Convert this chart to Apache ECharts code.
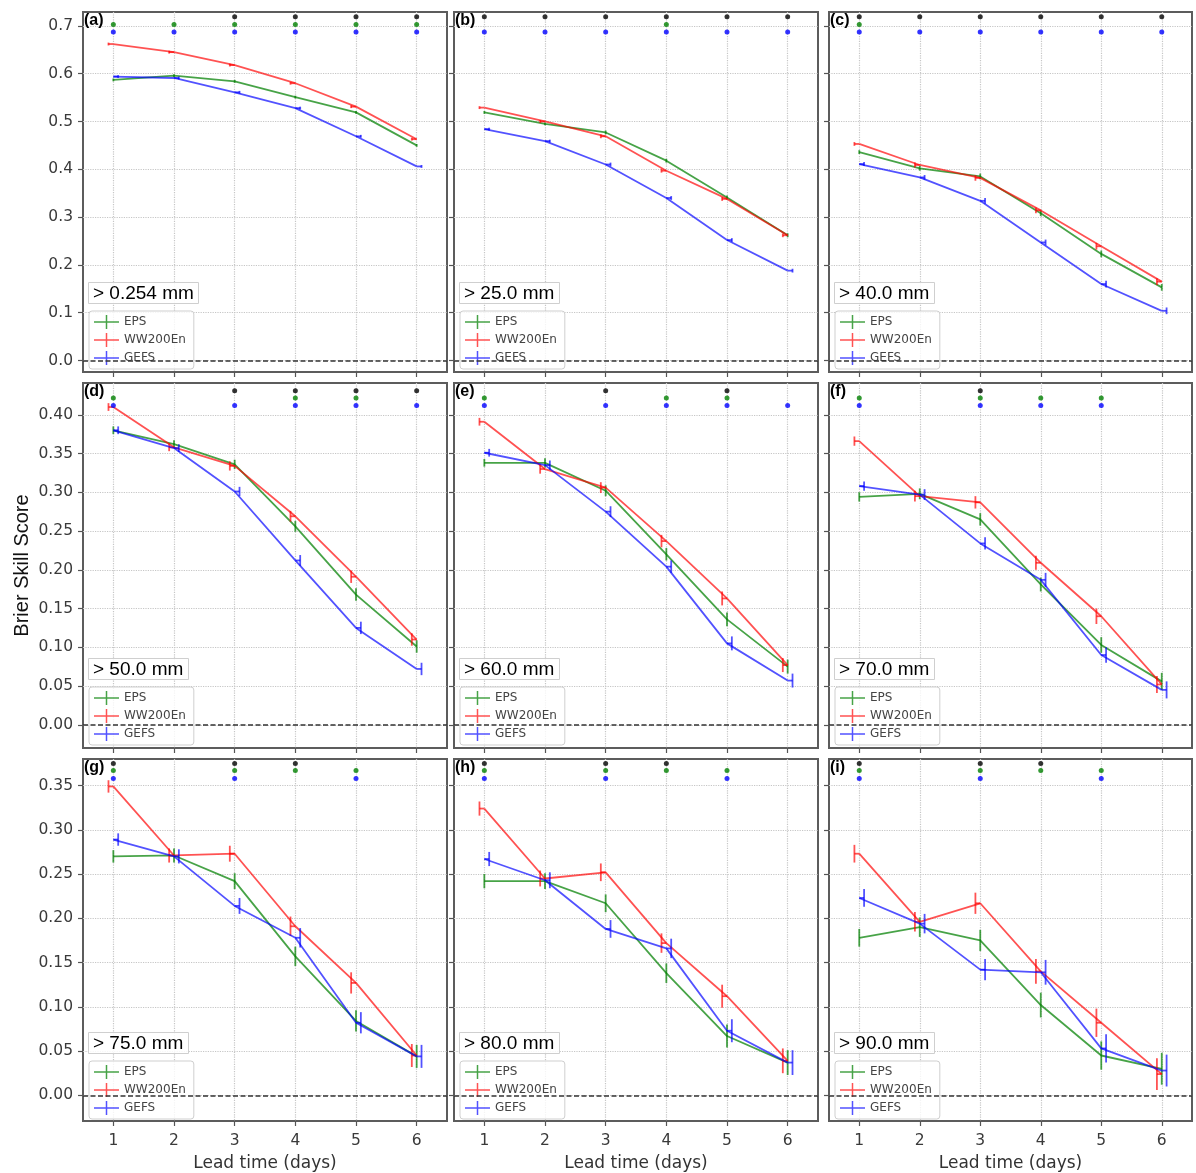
<!DOCTYPE html>
<html><head><meta charset="utf-8">
<script src="https://cdn.jsdelivr.net/npm/echarts@6/dist/echarts.min.js"></script>
<style>html,body{margin:0;padding:0;background:#fff}#chart{width:1196px;height:1173px}</style>
</head><body><div id="chart"></div>
<script>
// ---------------- data ----------------
const leadTimes = [1, 2, 3, 4, 5, 6];
const models = ['EPS', 'WW200En', 'GEFS'];
const panelLetters = ['(a)', '(b)', '(c)', '(d)', '(e)', '(f)', '(g)', '(h)', '(i)'];
const thresholds = ['> 0.254 mm', '> 25.0 mm', '> 40.0 mm', '> 50.0 mm', '> 60.0 mm', '> 70.0 mm', '> 75.0 mm', '> 80.0 mm', '> 90.0 mm'];
const yTicksRow1 = [0.0, 0.1, 0.2, 0.3, 0.4, 0.5, 0.6, 0.7];
const yTicksRow2 = [0.00, 0.05, 0.10, 0.15, 0.20, 0.25, 0.30, 0.35, 0.40];
const yTicksRow3 = [0.00, 0.05, 0.10, 0.15, 0.20, 0.25, 0.30, 0.35];
const xAxisTitle = 'Lead time (days)';
const yAxisTitle = 'Brier Skill Score';

// (a) > 0.254 mm
const eps_a  = [0.587, 0.596, 0.584, 0.551, 0.519, 0.450];
const ww_a   = [0.662, 0.645, 0.618, 0.580, 0.531, 0.463];
const gefs_a = [0.594, 0.591, 0.561, 0.528, 0.469, 0.406];
const err_a  = [0.003, 0.003, 0.003, 0.003, 0.003, 0.003];
const sigBlack_a = [3, 4, 5, 6], sigGreen_a = [1, 2, 3, 4, 5, 6], sigBlue_a = [1, 2, 3, 4, 5, 6];
// (b) > 25.0 mm
const eps_b  = [0.519, 0.495, 0.477, 0.418, 0.341, 0.262];
const ww_b   = [0.529, 0.500, 0.469, 0.397, 0.338, 0.262];
const gefs_b = [0.484, 0.459, 0.410, 0.340, 0.252, 0.188];
const err_b  = [0.003, 0.003, 0.004, 0.004, 0.004, 0.004];
const sigBlack_b = [1, 2, 3, 4, 5, 6], sigGreen_b = [4], sigBlue_b = [1, 2, 3, 4, 5, 6];
// (c) > 40.0 mm
const eps_c  = [0.436, 0.402, 0.385, 0.308, 0.223, 0.153];
const ww_c   = [0.453, 0.409, 0.382, 0.314, 0.239, 0.165];
const gefs_c = [0.411, 0.383, 0.334, 0.247, 0.160, 0.104];
const err_c  = [0.004, 0.005, 0.006, 0.006, 0.007, 0.007];
const sigBlack_c = [1, 2, 3, 4, 5, 6], sigGreen_c = [1], sigBlue_c = [1, 2, 3, 4, 5, 6];
// (d) > 50.0 mm
const eps_d  = [0.380, 0.362, 0.336, 0.256, 0.168, 0.101];
const ww_d   = [0.410, 0.358, 0.334, 0.269, 0.191, 0.110];
const gefs_d = [0.380, 0.357, 0.301, 0.212, 0.125, 0.072];
const err_d  = [0.005, 0.005, 0.006, 0.007, 0.008, 0.008];
const sigBlack_d = [3, 4, 5, 6], sigGreen_d = [1, 4, 5], sigBlue_d = [1, 3, 4, 5, 6];
// (e) > 60.0 mm
const eps_e  = [0.338, 0.338, 0.302, 0.220, 0.136, 0.075];
const ww_e   = [0.391, 0.330, 0.306, 0.237, 0.163, 0.077];
const gefs_e = [0.351, 0.335, 0.275, 0.204, 0.105, 0.057];
const err_e  = [0.005, 0.006, 0.007, 0.008, 0.009, 0.009];
const sigBlack_e = [3, 5], sigGreen_e = [1, 4, 5], sigBlue_e = [1, 3, 4, 5, 6];
// (f) > 70.0 mm
const eps_f  = [0.294, 0.298, 0.265, 0.181, 0.103, 0.056];
const ww_f   = [0.366, 0.295, 0.287, 0.209, 0.140, 0.052];
const gefs_f = [0.308, 0.297, 0.234, 0.187, 0.090, 0.045];
const err_f  = [0.006, 0.007, 0.008, 0.009, 0.010, 0.011];
const sigBlack_f = [3], sigGreen_f = [1, 3, 4, 5], sigBlue_f = [1, 3, 4, 5];
// (g) > 75.0 mm
const eps_g  = [0.270, 0.271, 0.242, 0.157, 0.084, 0.044];
const ww_g   = [0.349, 0.271, 0.273, 0.191, 0.127, 0.045];
const gefs_g = [0.289, 0.270, 0.214, 0.178, 0.082, 0.044];
const err_g  = [0.007, 0.008, 0.009, 0.011, 0.012, 0.013];
const sigBlack_g = [1, 3, 4], sigGreen_g = [1, 3, 4, 5], sigBlue_g = [1, 3, 5];
// (h) > 80.0 mm
const eps_h  = [0.242, 0.242, 0.217, 0.138, 0.067, 0.037];
const ww_h   = [0.324, 0.245, 0.252, 0.172, 0.112, 0.039];
const gefs_h = [0.267, 0.243, 0.188, 0.166, 0.073, 0.037];
const err_h  = [0.008, 0.009, 0.010, 0.011, 0.013, 0.014];
const sigBlack_h = [1, 3, 4], sigGreen_h = [1, 3, 4, 5], sigBlue_h = [1, 3, 5];
// (i) > 90.0 mm
const eps_i  = [0.178, 0.190, 0.175, 0.102, 0.045, 0.030];
const ww_i   = [0.273, 0.196, 0.217, 0.140, 0.082, 0.024];
const gefs_i = [0.223, 0.194, 0.142, 0.139, 0.053, 0.028];
const err_i  = [0.010, 0.011, 0.012, 0.014, 0.016, 0.018];
const sigBlack_i = [1, 3, 4], sigGreen_i = [1, 3, 4, 5], sigBlue_i = [1, 3, 5];

// ---------------- layout / style ----------------
const panels = [
  {EPS: eps_a, WW200En: ww_a, GEFS: gefs_a, err: err_a, black: sigBlack_a, green: sigGreen_a, blue: sigBlue_a},
  {EPS: eps_b, WW200En: ww_b, GEFS: gefs_b, err: err_b, black: sigBlack_b, green: sigGreen_b, blue: sigBlue_b},
  {EPS: eps_c, WW200En: ww_c, GEFS: gefs_c, err: err_c, black: sigBlack_c, green: sigGreen_c, blue: sigBlue_c},
  {EPS: eps_d, WW200En: ww_d, GEFS: gefs_d, err: err_d, black: sigBlack_d, green: sigGreen_d, blue: sigBlue_d},
  {EPS: eps_e, WW200En: ww_e, GEFS: gefs_e, err: err_e, black: sigBlack_e, green: sigGreen_e, blue: sigBlue_e},
  {EPS: eps_f, WW200En: ww_f, GEFS: gefs_f, err: err_f, black: sigBlack_f, green: sigGreen_f, blue: sigBlue_f},
  {EPS: eps_g, WW200En: ww_g, GEFS: gefs_g, err: err_g, black: sigBlack_g, green: sigGreen_g, blue: sigBlue_g},
  {EPS: eps_h, WW200En: ww_h, GEFS: gefs_h, err: err_h, black: sigBlack_h, green: sigGreen_h, blue: sigBlue_h},
  {EPS: eps_i, WW200En: ww_i, GEFS: gefs_i, err: err_i, black: sigBlack_i, green: sigGreen_i, blue: sigBlue_i}
];
const COLS = [{left: 83, width: 364}, {left: 454, width: 364}, {left: 829, width: 363}];
const ROWS = [
  {top: 12, height: 360, min: -0.024, max: 0.729, split: 7, ticks: yTicksRow1, dec: 1, dots: [0.719, 0.703, 0.687]},
  {top: 383, height: 365, min: -0.030, max: 0.441, split: 9, ticks: yTicksRow2, dec: 2, dots: [0.431, 0.4215, 0.412]},
  {top: 759, height: 363, min: -0.029, max: 0.380, split: 8, ticks: yTicksRow3, dec: 2, dots: [0.375, 0.367, 0.358]}
];
const COLOR = {EPS: 'rgba(0,128,0,0.72)', WW200En: 'rgba(255,0,0,0.68)', GEFS: 'rgba(0,0,255,0.68)'};
const OFFSET = {EPS: 0, WW200En: -0.08, GEFS: 0.08};
const DOT_COLOR = ['#000000', '#008000', '#0000ff'];
const LW = 1.8;
const TICK_FONT = {fontFamily: 'DejaVu Sans', fontSize: 15.5, color: '#3a3a3a'};

const option = {
  animation: false, backgroundColor: '#ffffff',
  grid: [], xAxis: [], yAxis: [], series: [], title: [], legend: []
};

panels.forEach((p, k) => {
  const r = Math.floor(k / 3), c = k % 3;
  const R = ROWS[r], C = COLS[c];
  option.grid.push({left: C.left, top: R.top, width: C.width, height: R.height,
    show: true, borderColor: '#5c5c5c', borderWidth: 2, backgroundColor: '#fff'});
  option.xAxis.push({
    type: 'value', gridIndex: k, min: 0.5, max: 6.5, splitNumber: 6, position: 'bottom',
    axisLine: {show: false, onZero: false},
    axisTick: {show: true, length: 5, customValues: leadTimes, lineStyle: {color: '#555', width: 1.2}},
    axisLabel: Object.assign({show: r === 2, customValues: leadTimes, margin: 12,
      formatter: v => String(v)}, TICK_FONT),
    splitLine: {show: true, lineStyle: {type: 'dotted', color: '#c6c6c6', width: 1.2}},
    name: r === 2 ? xAxisTitle : '', nameLocation: 'middle', nameGap: 34,
    nameTextStyle: {fontFamily: 'DejaVu Sans', fontSize: 17, color: '#333'}
  });
  option.yAxis.push({
    type: 'value', gridIndex: k, min: R.min, max: R.max, splitNumber: R.split, position: 'left',
    axisLine: {show: false, onZero: false},
    axisTick: {show: true, length: 5, customValues: R.ticks, lineStyle: {color: '#555', width: 1.2}},
    axisLabel: Object.assign({show: c === 0, customValues: R.ticks, margin: 10,
      formatter: v => v.toFixed(R.dec)}, TICK_FONT),
    splitLine: {show: true, lineStyle: {type: 'dotted', color: '#c6c6c6', width: 1.2}},
    name: (k === 3) ? yAxisTitle : '', nameLocation: 'middle', nameGap: 51,
    nameTextStyle: {fontFamily: 'Liberation Sans', fontSize: 20, color: '#111'}
  });

  models.forEach((m, mi) => {
    const vals = p[m];
    const line = {
      name: m, type: 'line', xAxisIndex: k, yAxisIndex: k,
      data: leadTimes.map((t, i) => [t, vals[i]]),
      symbol: 'none', color: COLOR[m], lineStyle: {width: LW, color: COLOR[m]},
      z: 2 + mi * 0.1, silent: true
    };
    if (mi === 0) {
      line.markLine = {silent: true, symbol: 'none', label: {show: false},
        lineStyle: {type: [5, 2.5], color: '#333', width: 1.5}, data: [{yAxis: 0}]};
    }
    option.series.push(line);
    // error bars (drawn at slightly offset lead times, as in the original)
    option.series.push({
      name: m + ' err', type: 'custom', xAxisIndex: k, yAxisIndex: k, silent: true,
      z: 2 + mi * 0.1,
      data: leadTimes.map((t, i) => [t, vals[i], p.err[i]]),
      renderItem: (params, api) => {
        const t = api.value(0), y = api.value(1), e = api.value(2);
        const xo = t + OFFSET[m];
        const a = api.coord([xo, y + e]), b = api.coord([xo, y - e]);
        const c0 = api.coord([t, y]), c1 = api.coord([xo, y]);
        return {type: 'group', children: [
          {type: 'line', shape: {x1: a[0], y1: a[1], x2: b[0], y2: b[1]}, style: {stroke: COLOR[m], lineWidth: LW}},
          {type: 'line', shape: {x1: c0[0], y1: c0[1], x2: c1[0], y2: c1[1]}, style: {stroke: COLOR[m], lineWidth: LW}}
        ]};
      }
    });
  });

  // significance markers at top of panel
  [p.black, p.green, p.blue].forEach((arr, di) => {
    option.series.push({
      name: 'sig' + di, type: 'scatter', xAxisIndex: k, yAxisIndex: k, silent: true,
      data: arr.map(t => [t, R.dots[di]]), symbolSize: 5,
      itemStyle: {color: DOT_COLOR[di]}, z: 4
    });
  });

  option.title.push({text: panelLetters[k], left: C.left + 1, top: R.top + 1, padding: 0,
    textStyle: {fontFamily: 'Liberation Sans', fontSize: 16, fontWeight: 'bold', color: '#000'}});
  option.title.push({text: thresholds[k], left: C.left + 5, top: R.top + R.height - 90,
    padding: [2, 5, 1, 5], backgroundColor: 'rgba(255,255,255,0.85)', borderColor: '#cfcfcf', borderWidth: 1,
    textStyle: {fontFamily: 'Liberation Sans', fontSize: 19, fontWeight: 'normal', color: '#000'}});
  option.legend.push({
    data: models, left: C.left + 6, top: R.top + R.height - 61, orient: 'vertical',
    icon: 'path://M0,6.25H25V7.75H0Z M11.75,0H13.25V14H11.75Z',
    itemWidth: 25, itemHeight: 14, itemGap: 4, padding: [4, 8, 4, 5],
    backgroundColor: 'rgba(255,255,255,0.8)', borderColor: '#cfcfcf', borderWidth: 1, borderRadius: 3,
    selectedMode: false,
    textStyle: {fontFamily: 'DejaVu Sans', fontSize: 12, color: '#444'}
  });
});

const chart = echarts.init(document.getElementById('chart'), null, {renderer: 'canvas'});
chart.setOption(option);
</script></body></html>
